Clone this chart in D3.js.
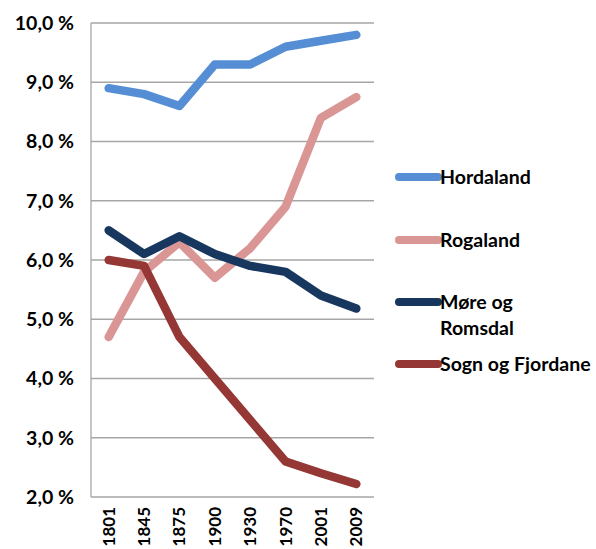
<!DOCTYPE html>
<html>
<head>
<meta charset="utf-8">
<script src="https://d3js.org/d3.v7.min.js"></script>
<style>
  body { margin: 0; background: #fff; }
  svg { display: block; font-family: Lato, "Open Sans", sans-serif; font-weight: bold; }
</style>
</head>
<body>
<svg id="chart" width="596" height="549"></svg>
<script>
var years = ["1801", "1845", "1875", "1900", "1930", "1970", "2001", "2009"];
var yTicks = [2, 3, 4, 5, 6, 7, 8, 9, 10];

var hordaland = [8.9, 8.8, 8.6, 9.3, 9.3, 9.6, 9.7, 9.8];
var rogaland  = [4.7, 5.8, 6.3, 5.7, 6.2, 6.9, 8.4, 8.75];
var moere     = [6.5, 6.1, 6.4, 6.1, 5.9, 5.8, 5.4, 5.18];
var sogn      = [6.0, 5.9, 4.7, 4.0, 3.3, 2.6, 2.4, 2.22];

var seriesNames  = ["Hordaland", "Rogaland", "Møre og Romsdal", "Sogn og Fjordane"];
var seriesColors = ["#558ed5", "#d99694", "#17375e", "#953735"];

var series = [hordaland, rogaland, moere, sogn].map(function (v, i) {
  return { name: seriesNames[i], color: seriesColors[i], values: v };
});

var margin = { top: 23, left: 91, right: 222, bottom: 52 };
var svg = d3.select("#chart");
var width = +svg.attr("width"), height = +svg.attr("height");
var fontSize = 19.5;

var x = d3.scalePoint()
  .domain(years)
  .range([margin.left, width - margin.right])
  .padding(0.5);

var y = d3.scaleLinear()
  .domain([2, 10])
  .range([height - margin.bottom, margin.top]);

// gridlines
svg.append("g")
  .selectAll("line")
  .data(yTicks.slice(1))
  .join("line")
  .attr("x1", margin.left)
  .attr("x2", width - margin.right)
  .attr("y1", function (d) { return y(d); })
  .attr("y2", function (d) { return y(d); })
  .attr("stroke", "#a6a6a6")
  .attr("stroke-width", 1.3);

// axes lines
svg.append("line")
  .attr("x1", margin.left).attr("x2", margin.left)
  .attr("y1", margin.top).attr("y2", y(2))
  .attr("stroke", "#a6a6a6").attr("stroke-width", 1.3);
svg.append("line")
  .attr("x1", margin.left).attr("x2", width - margin.right)
  .attr("y1", y(2)).attr("y2", y(2))
  .attr("stroke", "#a6a6a6").attr("stroke-width", 1.3);

// y labels
svg.append("g")
  .selectAll("text")
  .data(yTicks)
  .join("text")
  .attr("x", 74)
  .attr("y", function (d) { return y(d); })
  .attr("dy", "0.35em")
  .attr("text-anchor", "end")
  .attr("font-size", fontSize)
  .text(function (d) { return d3.format(".1f")(d).replace(".", ",") + " %"; });

// x labels (rotated)
svg.append("g")
  .selectAll("text")
  .data(years)
  .join("text")
  .attr("transform", function (d) { return "translate(" + x(d) + "," + 507 + ") rotate(-90)"; })
  .attr("dy", "0.35em")
  .attr("text-anchor", "end")
  .attr("font-size", 17)
  .text(function (d) { return d; });

var line = d3.line()
  .x(function (d, i) { return x(years[i]); })
  .y(function (d) { return y(d); });

svg.append("g")
  .selectAll("path")
  .data(series)
  .join("path")
  .attr("d", function (d) { return line(d.values); })
  .attr("fill", "none")
  .attr("stroke", function (d) { return d.color; })
  .attr("stroke-width", 8.5)
  .attr("stroke-linecap", "round")
  .attr("stroke-linejoin", "round");

// legend
var legendY = [177, 240, 302, 364];
var legend = svg.append("g")
  .selectAll("g")
  .data(series)
  .join("g")
  .attr("transform", function (d, i) { return "translate(399," + legendY[i] + ")"; });

legend.append("line")
  .attr("x1", 0).attr("x2", 39)
  .attr("stroke", function (d) { return d.color; })
  .attr("stroke-width", 8)
  .attr("stroke-linecap", "round");

legend.append("text")
  .attr("x", 41)
  .attr("dy", "0.35em")
  .attr("font-size", fontSize)
  .each(function (d) {
    var t = d3.select(this);
    if (d.name === "Møre og Romsdal") {
      t.append("tspan").attr("x", 41).text("Møre og");
      t.append("tspan").attr("x", 41).attr("dy", 26).text("Romsdal");
    } else {
      t.text(d.name);
    }
  });
</script>
</body>
</html>
